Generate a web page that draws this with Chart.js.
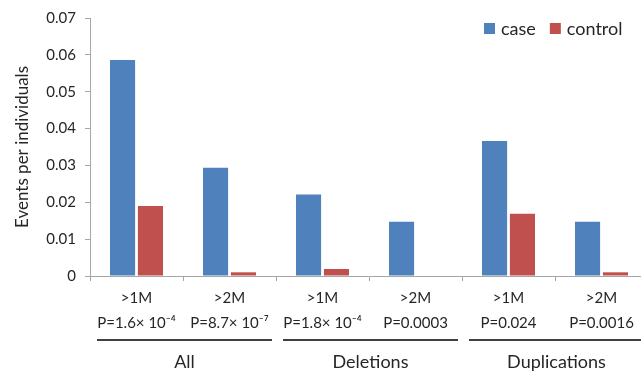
<!DOCTYPE html>
<html>
<head>
<meta charset="utf-8">
<script src="https://cdn.jsdelivr.net/npm/chart.js@4"></script>
<style>
  html, body { margin: 0; padding: 0; overflow: hidden; background: #fff; }
  #wrap { width: 660px; height: 372px; }
</style>
</head>
<body>
<div id="wrap"><canvas id="chart"></canvas></div>
<script>
// size labels and p-values under each pair of bars
const sizes = ['>1M', '>2M', '>1M', '>2M', '>1M', '>2M'];
const pValues = ['P=1.6\u00d7 10\u207b\u2074', 'P=8.7\u00d7 10\u207b\u2077', 'P=1.8\u00d7 10\u207b\u2074',
  'P=0.0003', 'P=0.024', 'P=0.0016'];
const groups = ['All', 'Deletions', 'Duplications'];

const caseValues = [0.0586, 0.0294, 0.0221, 0.0147, 0.0366, 0.0147];
const controlValues = [0.019, 0.001, 0.0019, 0, 0.0169, 0.001];

const FONT = 'Lato, "Open Sans", sans-serif';
const TEXT = '#262626';

// group underlines + names, and the legend in the top-right corner
const extras = {
  id: 'extras',
  afterDraw(chart) {
    const ctx = chart.ctx;
    const x = chart.scales.x;
    const half = (x.getPixelForValue(1) - x.getPixelForValue(0)) / 2;
    ctx.save();
    groups.forEach((name, g) => {
      const left = x.getPixelForValue(g * 2) - half + 7;
      const right = x.getPixelForValue(g * 2 + 1) + half - 4;
      ctx.strokeStyle = '#404040';
      ctx.lineWidth = 2;
      ctx.beginPath();
      ctx.moveTo(left, 340);
      ctx.lineTo(right, 340);
      ctx.stroke();
      ctx.fillStyle = TEXT;
      ctx.font = '18px ' + FONT;
      ctx.textAlign = 'center';
      ctx.textBaseline = 'alphabetic';
      ctx.fillText(name, (left + right) / 2, 368);
    });

    // legend
    ctx.font = '18px ' + FONT;
    ctx.textAlign = 'left';
    ctx.textBaseline = 'middle';
    let lx = 484;
    chart.data.datasets.forEach(ds => {
      ctx.fillStyle = ds.backgroundColor;
      ctx.fillRect(lx, 23, 11, 11);
      ctx.fillStyle = TEXT;
      ctx.fillText(ds.label, lx + 17, 29);
      lx += 17 + ctx.measureText(ds.label).width + 14;
    });
    ctx.restore();
  }
};

new Chart(document.getElementById('chart'), {
  type: 'bar',
  data: {
    labels: sizes.map((s, i) => [s, pValues[i]]),
    datasets: [
      {
        label: 'case',
        data: caseValues,
        backgroundColor: '#4f81bd',
        barPercentage: 0.9,
        categoryPercentage: 0.6
      },
      {
        label: 'control',
        data: controlValues,
        backgroundColor: '#c0504d',
        barPercentage: 0.9,
        categoryPercentage: 0.6
      }
    ]
  },
  options: {
    responsive: true,
    maintainAspectRatio: false,
    animation: false,
    layout: { padding: { top: 17, right: 12, left: 0, bottom: 0 } },
    scales: {
      x: {
        grid: { drawOnChartArea: false, tickLength: 5, color: '#a6a6a6' },
        border: { color: '#a6a6a6' },
        ticks: {
          color: TEXT,
          padding: 4,
          maxRotation: 0,
          autoSkip: false,
          font: { family: FONT, size: 15, lineHeight: 1.7 }
        },
        afterFit(scale) { scale.height = 96; }
      },
      y: {
        min: 0,
        max: 0.07,
        grid: { drawOnChartArea: false, tickLength: 5, color: '#a6a6a6' },
        border: { color: '#a6a6a6' },
        ticks: {
          stepSize: 0.01,
          color: TEXT,
          padding: 9,
          font: { family: FONT, size: 15 },
          callback: v => v === 0 ? '0' : v.toFixed(2)
        },
        title: {
          display: true,
          text: 'Events per individuals',
          color: TEXT,
          padding: { top: 12, bottom: 0 },
          font: { family: FONT, size: 17 }
        },
        afterFit(scale) { scale.width = 90; }
      }
    },
    plugins: {
      legend: { display: false },
      tooltip: { enabled: false }
    }
  },
  plugins: [extras]
});
</script>
</body>
</html>
